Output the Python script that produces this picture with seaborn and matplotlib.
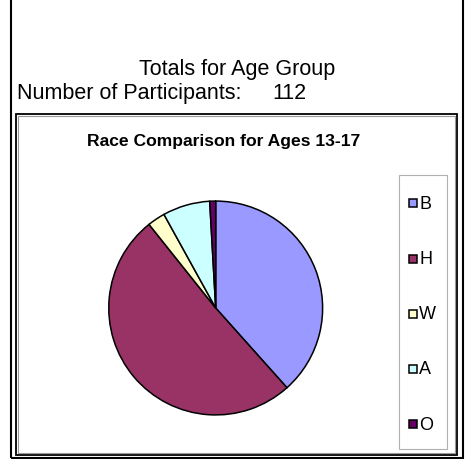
import matplotlib
matplotlib.use("Agg")
import matplotlib.pyplot as plt
from matplotlib.patches import Rectangle
import seaborn as sns

# ---- data ----
categories = ["B", "H", "W", "A", "O"]
counts = [43, 57, 3, 8, 1]
hex_colors = ["#9999FF", "#993366", "#FFFFCC", "#CCFFFF", "#660066"]
header = "Totals for Age Group"
participants_label = "Number of Participants:"
participants_total = "112"
chart_title = "Race Comparison for Ages 13-17"

sns.set_theme(style="white")
plt.rcParams["font.family"] = ["Liberation Sans", "DejaVu Sans"]
palette = sns.color_palette(hex_colors)

W, H = 471, 460
fig = plt.figure(figsize=(W / 100, H / 100), dpi=100)
fig.patch.set_facecolor("white")


def fx(x):
    return x / W


def fy(y):
    return 1 - y / H


def rect(x0, y0, x1, y1, **kw):
    r = Rectangle((fx(x0), fy(y1)), fx(x1) - fx(x0), fy(y0) - fy(y1),
                  transform=fig.transFigure, fill=False, **kw)
    fig.add_artist(r)
    return r


# outer frame (top edge lies beyond the image)
rect(11, -10, 463, 459, edgecolor="black", linewidth=1.5)
# chart area box with inner grey line
rect(16, 115, 457, 456, edgecolor="black", linewidth=1.3)
rect(17.8, 116.8, 455.2, 454.2, edgecolor="#9a9a9a", linewidth=0.8)

# header texts
fs_head = 15.5
fig.text(fx(237.5), fy(75), header, ha="center", va="baseline", fontsize=fs_head, color="black")
fig.text(fx(17.3), fy(99.3), participants_label, ha="left", va="baseline", fontsize=fs_head, color="black")
fig.text(fx(272), fy(99.3), participants_total, ha="left", va="baseline", fontsize=fs_head, color="black")

# chart title
fig.text(fx(224), fy(145.7), chart_title, ha="center", va="baseline", fontsize=12.6,
         fontweight="bold", color="black")

# pie
cx, cy, r = 215.7, 309, 108
ax = fig.add_axes([fx(cx - r), fy(cy + r), 2 * r / W, 2 * r / H])
ax.pie(counts, colors=palette, startangle=90, counterclock=False, radius=1,
       wedgeprops=dict(edgecolor="black", linewidth=1.1))
ax.set_xlim(-1.01, 1.01)
ax.set_ylim(-1.01, 1.01)
ax.set_aspect("equal")
ax.axis("off")

# legend
rect(399, 176, 447, 450, edgecolor="#b0b0b0", linewidth=0.8)
step = 55.2
for i, (lab, col) in enumerate(zip(categories, palette)):
    yc = 204.3 + i * step
    sq = Rectangle((fx(409.3), fy(yc + 4)), 8 / W, 8 / H, transform=fig.transFigure,
                   facecolor=col, edgecolor="black", linewidth=1.1)
    fig.add_artist(sq)
    fig.text(fx(419.3), fy(yc), lab, ha="left", va="center", fontsize=13, color="black")

fig.savefig("out.png", dpi=100, facecolor="white")
